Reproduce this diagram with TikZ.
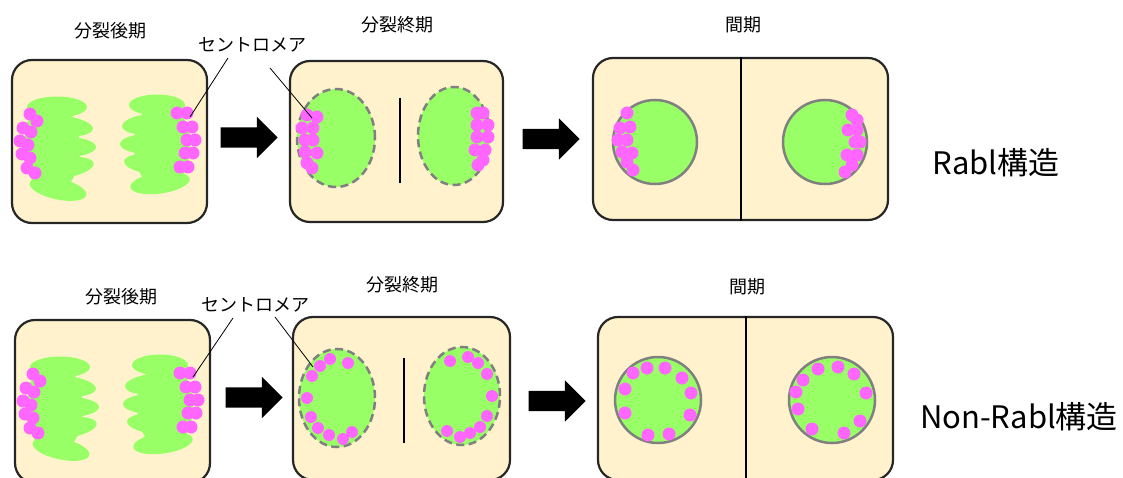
\documentclass[tikz,border=0pt]{standalone}
\usepackage{fontspec}
\setmainfont{Noto Sans CJK JP}
\usetikzlibrary{shapes.arrows,calc}
\definecolor{cellfill}{HTML}{FFF2CC}
\definecolor{chromogreen}{HTML}{99FF66}
\definecolor{cenpink}{HTML}{FF66FF}
\definecolor{envgray}{HTML}{808080}
\tikzset{
  cell/.style={draw=black!85, fill=cellfill, line width=2.2pt, rounded corners=20pt, inner sep=0pt},
  chromo/.style={fill=chromogreen},
  cen/.style={fill=cenpink},
  nucleus/.style={draw=envgray, fill=chromogreen, line width=2.5pt},
  telnuc/.style={nucleus, dash pattern=on 8pt off 4.5pt},
  bar/.style={draw=black, line width=2pt},
  leader/.style={draw=black, line width=0.8pt},
  blockarrow/.style={single arrow, fill=black, inner xsep=0pt, inner ysep=10pt, minimum width=41pt, minimum height=57pt, single arrow head extend=10.5pt},
  stagelab/.style={font=\fontsize{18}{21}\selectfont},
  typelab/.style={font=\fontsize{31}{36}\selectfont}
}
\begin{document}
\begin{tikzpicture}[x=1pt,y=-1pt]
\useasboundingbox (0,0) rectangle (1123,478);
% cells
\node[cell, minimum width=195pt, minimum height=163pt] (ana1) at (109.5,141.5) {};
\node[cell, minimum width=213pt, minimum height=161pt] (tel1) at (396.5,141.5) {};
\node[cell, minimum width=295pt, minimum height=162pt] (int1) at (740.5,139) {};
\node[cell, minimum width=195pt, minimum height=163pt] (ana2) at (112.5,401.5) {};
\node[cell, minimum width=217pt, minimum height=163pt] (tel2) at (401.5,398.5) {};
\node[cell, minimum width=295pt, minimum height=163pt] (int2) at (745.5,398.5) {};
\node[blockarrow] (arrA1) at (244,137.5) {};
\node[blockarrow] (arrB1) at (546,139) {};
\node[blockarrow] (arrA2) at (249,397.5) {};
\node[blockarrow] (arrB2) at (552,401) {};
% anaphase, same in both rows
\foreach \dx/\dy in {0/0,3/260} {
\begin{scope}[shift={(\dx,\dy)}]
\fill[chromo] (52,148) ellipse[x radius=28pt, y radius=46pt];
\fill[chromo] (162,146) ellipse[x radius=28pt, y radius=44pt];
\foreach \px/\py/\rx/\ang in {57/107/30/0, 60/126/33/-5, 62/147/34/0, 61/168/33/8, 58/189/29/-12,
  157/105/28/0, 152/124/30/5, 152/144/32/0, 155/164/31/-5, 160/183/30/8}
  \fill[chromo, rotate around={\ang:(\px,\py)}] (\px,\py) ellipse[x radius=\rx pt, y radius=10.5pt];
\foreach \px/\py in {30/114,37/121,23/128,31/132,20/141,28/145,22/154,30/158,27/168,35/173,
  177/113,187/113,183/127,192/127,187/140,195/140,185/153,193/153,180/167,188/167}
  \fill[cen] (\px,\py) circle[radius=6.5pt];
\end{scope}
}
% telophase, Rabl
\draw[telnuc] (336,138) ellipse[x radius=39pt, y radius=49pt];
\draw[telnuc] (454,136) ellipse[x radius=36pt, y radius=49pt];
\foreach \px/\py in {307/115,317/117,302/128,313/128,305/140,313/140,305/152,317/153,307/163,312/168,
  477/113,483/113,477/125,488/125,477/137,488/137,475/150,485/150,483/160,478/165}
  \fill[cen] (\px,\py) circle[radius=6.5pt];
\draw[bar] (400,98) -- (400,183);
% interphase, Rabl
\draw[nucleus] (655,142) circle[radius=42pt];
\draw[nucleus] (825,142) circle[radius=42pt];
\foreach \px/\py in {627/113,630/127,620/128,618/140,627/140,622/152,632/153,627/162,633/170,
  852/115,857/120,848/130,857/130,855/142,860/142,847/155,857/155,852/165,845/172}
  \fill[cen] (\px,\py) circle[radius=6.5pt];
\draw[bar] (int1.north) -- (int1.south);
% telophase, Non-Rabl
\draw[telnuc] (337,398) ellipse[x radius=38pt, y radius=49pt];
\draw[telnuc] (462,396) ellipse[x radius=38pt, y radius=49pt];
\foreach \px/\py in {320/366,330/359,348/363,312/376,307/398,311/417,318/428,329/435,343/439,352/432,
  450/361,468/357,478/363,487/374,492/396,487/416,480/427,470/433,460/437,447/431}
  \fill[cen] (\px,\py) circle[radius=6pt];
\draw[bar] (404,358) -- (404,443);
% interphase, Non-Rabl
\draw[nucleus] (658,400) circle[radius=43pt];
\draw[nucleus] (832,400) circle[radius=43pt];
\foreach \px/\py in {633/373,647/368,665/368,682/378,691/393,690/415,669/434,648/435,625/413,625/389,
  803/380,818/369,838/367,854/374,866/393,860/421,844/433,812/429,798/409,796/392}
  \fill[cen] (\px,\py) circle[radius=6.5pt];
\draw[bar] (int2.north) -- (int2.south);
% labels
\node[stagelab] (anaLab1) at (110,31) {分裂後期};
\node[stagelab] (telLab1) at (397,25) {分裂終期};
\node[stagelab] (intLab1) at (743,25) {間期};
\node[stagelab] (cenLab1) at (252,45) {セントロメア};
\node[typelab] (rabl) at (996,163) {Rabl構造};
\node[stagelab] (anaLab2) at (121,297) {分裂後期};
\node[stagelab] (telLab2) at (402,285) {分裂終期};
\node[stagelab] (intLab2) at (747,287) {間期};
\node[stagelab] (cenLab2) at (255,305) {セントロメア};
\node[typelab] (nonrabl) at (1019,417) {Non-Rabl構造};
\coordinate (tipA1) at (190,117);
\coordinate (tipB1) at (312,118);
\coordinate (tipA2) at (193,377);
\coordinate (tipB2) at (313,367);
\draw[leader] ($(cenLab1.center)+(-24,13)$) -- (tipA1);
\draw[leader] ($(cenLab1.center)+(18,23)$) -- (tipB1);
\draw[leader] ($(cenLab2.center)+(-22,13)$) -- (tipA2);
\draw[leader] ($(cenLab2.center)+(20,12)$) -- (tipB2);
\end{tikzpicture}
\end{document}
